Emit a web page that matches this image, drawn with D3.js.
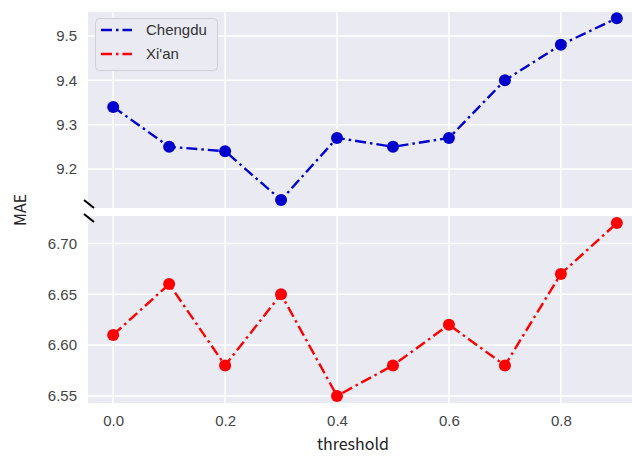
<!DOCTYPE html>
<html>
<head>
<meta charset="utf-8">
<script src="https://cdn.jsdelivr.net/npm/d3@7"></script>
<style>
  body { margin: 0; background: #fff; }
  svg { display: block; }
  .tick text { font-family: "Liberation Sans", Arial, sans-serif; font-size: 15px; fill: #444; }
</style>
</head>
<body>
<svg id="chart" width="632" height="456"></svg>
<script>
let thresholds = [0.0, 0.1, 0.2, 0.3, 0.4, 0.5, 0.6, 0.7, 0.8, 0.9]
let chengdu = [9.34, 9.25, 9.24, 9.13, 9.27, 9.25, 9.27, 9.40, 9.48, 9.54]
let xian = [6.61, 6.66, 6.58, 6.65, 6.55, 6.58, 6.62, 6.58, 6.67, 6.72]
let xTicks = [0.0, 0.2, 0.4, 0.6, 0.8]
let topTicks = [9.2, 9.3, 9.4, 9.5]
let bottomTicks = [6.55, 6.60, 6.65, 6.70]

let svg = d3.select('#chart')
let left = 88, right = 642
let topPanel = { y0: 12, y1: 208 }
let bottomPanel = { y0: 216, y1: 403 }

let x = d3.scaleLinear().domain([-0.045, 0.945]).range([left, right])
let yTop = d3.scaleLinear().domain([9.112, 9.554]).range([topPanel.y1, topPanel.y0])
let yBottom = d3.scaleLinear().domain([6.543, 6.727]).range([bottomPanel.y1, bottomPanel.y0])

let drawPanel = (panel, y, ticks, fmt, values, color, showX) => {
    let g = svg.append('g')
    g.append('rect')
        .attr('x', left).attr('y', panel.y0)
        .attr('width', right - left).attr('height', panel.y1 - panel.y0)
        .attr('fill', '#eaeaf2')

    // grid
    g.selectAll('.vgrid').data(xTicks).enter().append('line')
        .attr('x1', d => x(d)).attr('x2', d => x(d))
        .attr('y1', panel.y0).attr('y2', panel.y1)
        .attr('stroke', '#fff').attr('stroke-width', 1.5)
    g.selectAll('.hgrid').data(ticks).enter().append('line')
        .attr('x1', left).attr('x2', right)
        .attr('y1', d => y(d)).attr('y2', d => y(d))
        .attr('stroke', '#fff').attr('stroke-width', 1.5)

    let yAxis = d3.axisLeft(y).tickValues(ticks).tickFormat(d3.format(fmt)).tickSize(0).tickPadding(11)
    g.append('g').attr('transform', 'translate(' + left + ',0)').call(yAxis)
        .call(a => a.select('.domain').remove())

    if (showX) {
        let xAxis = d3.axisBottom(x).tickValues(xTicks).tickFormat(d3.format('.1f')).tickSize(0).tickPadding(12)
        g.append('g').attr('transform', 'translate(0,' + panel.y1 + ')').call(xAxis)
            .call(a => a.select('.domain').remove())
    }

    let line = d3.line().x((d, i) => x(thresholds[i])).y(d => y(d))
    g.append('path')
        .datum(values)
        .attr('d', line)
        .attr('fill', 'none')
        .attr('stroke', color)
        .attr('stroke-width', 2.4)
        .attr('stroke-dasharray', '11,4,2.5,4')

    g.selectAll('.dot').data(values).enter().append('circle')
        .attr('cx', (d, i) => x(thresholds[i]))
        .attr('cy', d => y(d))
        .attr('r', 6)
        .attr('fill', color)
}

drawPanel(topPanel, yTop, topTicks, '.1f', chengdu, '#0000cd', false)
drawPanel(bottomPanel, yBottom, bottomTicks, '.2f', xian, '#ff0000', true)

// break marks
let marks = [topPanel.y1 - 4, bottomPanel.y0 + 2]
svg.selectAll('.brk').data(marks).enter().append('line')
    .attr('x1', left - 4).attr('x2', left + 6)
    .attr('y1', d => d - 4).attr('y2', d => d + 4)
    .attr('stroke', '#000').attr('stroke-width', 2)

// legend
let legendNames = ['Chengdu', "Xi'an"]
let legendColors = ['#0000cd', '#ff0000']
let legend = svg.append('g')
legend.append('rect')
    .attr('x', 95.5).attr('y', 18.5).attr('width', 122).attr('height', 52)
    .attr('rx', 4).attr('fill', '#eaeaf2').attr('stroke', '#cfcfd6').attr('stroke-width', 1)
legendNames.forEach((name, i) => {
    let ly = 30 + i * 24
    legend.append('line')
        .attr('x1', 101).attr('x2', 132).attr('y1', ly).attr('y2', ly)
        .attr('stroke', legendColors[i]).attr('stroke-width', 2.4)
        .attr('stroke-dasharray', '11,4,2.5,4')
    legend.append('text')
        .attr('x', 146).attr('y', ly + 5)
        .attr('font-family', '"Liberation Sans", Arial, sans-serif')
        .attr('font-size', 15).attr('fill', '#333')
        .text(name)
})

// axis labels
svg.append('text')
    .attr('transform', 'translate(26,210) rotate(-90)')
    .attr('text-anchor', 'middle')
    .attr('font-family', '"Noto Sans CJK SC", "Noto Sans", sans-serif')
    .attr('font-size', 16).attr('fill', '#222')
    .text('MAE')
svg.append('text')
    .attr('x', 353).attr('y', 450)
    .attr('text-anchor', 'middle')
    .attr('font-family', '"Noto Sans CJK SC", "Noto Sans", sans-serif')
    .attr('font-size', 16).attr('fill', '#222')
    .text('threshold')
</script>
</body>
</html>
